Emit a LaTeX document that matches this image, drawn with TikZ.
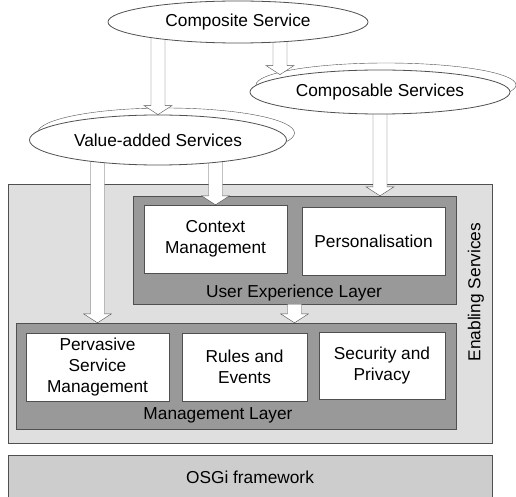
\documentclass[tikz,border=0pt]{standalone}
\usepackage{fontspec}
\setmainfont{Liberation Sans}
\usetikzlibrary{shapes.geometric,calc}
\definecolor{linegray}{HTML}{505050}
\definecolor{enablegray}{HTML}{DFDFDF}
\definecolor{layergray}{HTML}{999999}
\definecolor{osgigray}{HTML}{CDCDCD}
\pgfdeclarelayer{background}
\pgfdeclarelayer{arrows}
\pgfsetlayers{background,arrows,main}
\tikzset{
	svc/.style={ellipse, draw=linegray, fill=white, inner sep=0pt},
	layer/.style={draw=linegray, fill=layergray, inner sep=0pt},
	comp/.style={draw=linegray, fill=white, align=center, inner sep=0pt},
	blockarr/.style={draw=linegray, fill=white},
}
\newcommand{\blockarrow}[2]{\draw[blockarr] let \p1=#1, \p2=#2 in (\x1-7pt,\y1) -- (\x1-7pt,\y2+9pt) -- (\x1-14pt,\y2+9pt) -- (\x1,\y2) -- (\x1+14pt,\y2+9pt) -- (\x1+7pt,\y2+9pt) -- (\x1+7pt,\y1) -- cycle;}
\begin{document}
\begin{tikzpicture}[x=1pt, y=-1pt, line width=0.8pt, font=\fontsize{17.3}{21}\selectfont]
	\useasboundingbox (0,0) rectangle (516,497);
	% services
	\node[svc, minimum width=260pt, minimum height=42pt] (composite) at (238,22) {Composite Service};
	\node[svc, minimum width=260pt, minimum height=44pt] (composable) at (380,92) {Composable Services};
	\node[svc, minimum width=257pt, minimum height=50pt] (vas) at (158,140) {Value-added Services};
	\begin{pgfonlayer}{background}
	\node[svc, minimum width=260pt, minimum height=44pt] (composableb) at ([shift={(6,-7)}]composable.center) {};
	\node[svc, minimum width=257pt, minimum height=50pt] (vasb) at ([shift={(8,-7)}]vas.center) {};
	% enabling services
	\node[draw=linegray, fill=enablegray, minimum width=484pt, minimum height=259pt] (enabling) at (250,313.5) {};
	\node[rotate=90] (enablabel) at (476,292) {Enabling Services};
	\node[layer, minimum width=323pt, minimum height=108pt] (ux) at (294.5,250) {};
	\node[comp, minimum width=143pt, minimum height=68pt] (context) at (215.5,239) {Context\\Management};
	\node[comp, minimum width=143pt, minimum height=68pt] (personal) at (373.5,241) {Personalisation};
	\node (uxlabel) at (294,293) {User Experience Layer};
	\node[layer, minimum width=440pt, minimum height=106pt] (mgmt) at (236,376) {};
	\node[comp, minimum width=143pt, minimum height=68pt] (pervasive) at (97.5,367) {Pervasive\\Service\\Management};
	\node[comp, minimum width=125pt, minimum height=68pt] (rules) at (244.5,367) {Rules and\\Events};
	\node[comp, minimum width=126pt, minimum height=67pt] (security) at (382,365.5) {Security and\\Privacy};
	\node (mgmtlabel) at (218,415) {Management Layer};
	% framework
	\node[draw=linegray, fill=osgigray, minimum width=484pt, minimum height=44pt] (osgi) at (250,477) {OSGi framework};
	\end{pgfonlayer}
	% arrows
	\begin{pgfonlayer}{arrows}
	\blockarrow{(composite.center -| vas.center)}{(vas.north)}
	\blockarrow{([xshift=42pt]composite.center)}{([xshift=-100pt, yshift=-5pt]composable.north)}
	\blockarrow{(composable.center)}{(ux.north -| composable.center)}
	\blockarrow{(vas.center -| context.north)}{(context.north)}
	\blockarrow{(vas.center -| pervasive.north)}{(mgmt.north -| pervasive.north)}
	\blockarrow{(ux.south)}{(mgmt.north -| ux.south)}
	\end{pgfonlayer}
\end{tikzpicture}
\end{document}
